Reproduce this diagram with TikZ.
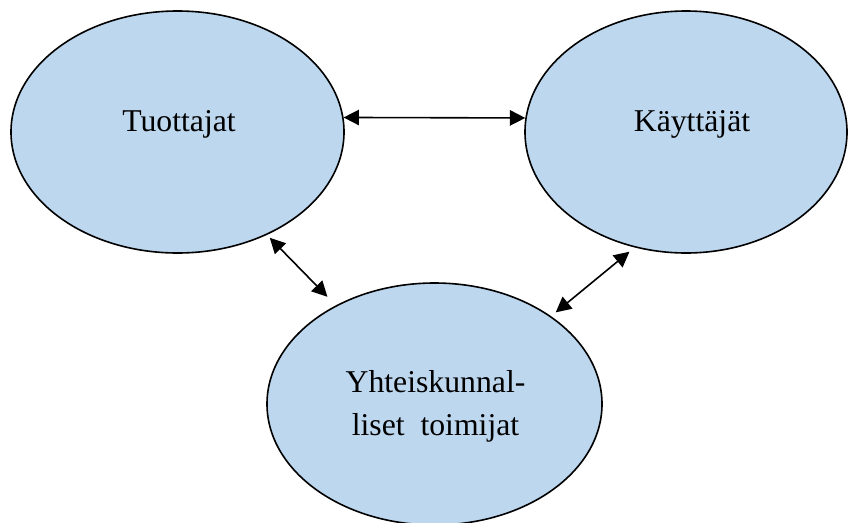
\documentclass[tikz,border=0pt]{standalone}
\usepackage{fontspec}
\setmainfont{Liberation Serif}
\usetikzlibrary{shapes.geometric,arrows.meta}
\definecolor{ellblue}{RGB}{189,215,238}
\begin{document}
\begin{tikzpicture}[x=0.75pt,y=-0.75pt,
    ell/.style={ellipse,draw=black,line width=1.2pt,fill=ellblue,inner sep=0pt},
    lbl/.style={anchor=base,font=\fontsize{23.8}{28}\selectfont},
    arr/.style={line width=1.2pt,{Triangle[length=11.5pt,width=11.5pt]}-{Triangle[length=11.5pt,width=11.5pt]}}]
                \useasboundingbox (0,0) rectangle (849,522);

                \node[ell,minimum width=249.75pt,minimum height=181.5pt] 
                    (tuottajat) at (177.5,132) {};
                \node[ell,minimum width=241.5pt,minimum height=181.5pt] 
                    (kayttajat) at (686,132) {};
                \node[ell,minimum width=251.25pt,minimum height=181.5pt] 
                    (yhteis) at (434.5,404) {};

                \node[lbl] (tuottajatLbl) at (179,131) {Tuottajat};
                \node[lbl] (kayttajatLbl) at (692,131) {Käyttäjät};
                \node[lbl] (yhteisLblA) at (435.5,392) {Yhteiskunnal-};
                \node[lbl] (yhteisLblB) at (435.5,435) {liset~~toimijat};

                \draw[arr] (tuottajat.5) -- (kayttajat.175);
                \draw[arr,shorten <=3pt,shorten >=9pt] 
                    (tuottajat.-49) -- (yhteis.135);
                \draw[arr,shorten <=5pt,shorten >=4.5pt] 
                    (kayttajat.246) -- (yhteis.37);
            \end{tikzpicture}
\end{document}
